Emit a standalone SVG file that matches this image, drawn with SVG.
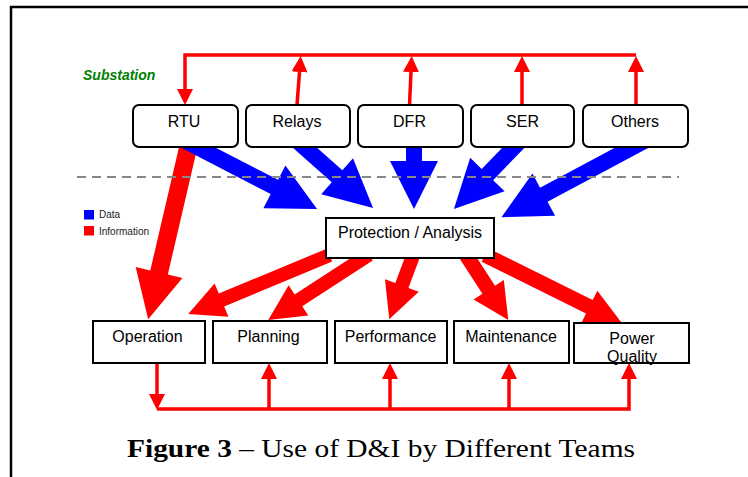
<svg xmlns="http://www.w3.org/2000/svg" width="748" height="477" viewBox="0 0 748 477">
  <style>
    .frame { fill: none; stroke: #000; stroke-width: 2.5; }
    .rbox { fill: #fff; stroke: #000; stroke-width: 2; }
    .sbox { fill: #fff; stroke: #000; stroke-width: 2; }
    .lbl { font-family: "Liberation Sans", Arial, sans-serif; font-size: 16px; fill: #000; text-anchor: middle; }
    .data { fill: #0000ff; }
    .info { fill: #ff0000; }
    .feed { fill: none; stroke: #ff0000; stroke-width: 3.5; }
    .sep { fill: none; stroke: #888; stroke-width: 2; stroke-dasharray: 9 6; }
    .legend { font-family: "Liberation Sans", Arial, sans-serif; font-size: 10px; fill: #222; }
  </style>
  <defs>
    <marker id="head" markerUnits="userSpaceOnUse" markerWidth="16" markerHeight="16" refX="0" refY="8" orient="auto">
      <path d="M0,0 L16,8 L0,16 Z" fill="#ff0000"/>
    </marker>
  </defs>

  <!-- outer frame -->
  <path class="frame" d="M11,477 V7 H748"/>

  <text x="83" y="80" font-family="Liberation Sans, Arial, sans-serif" font-size="14" font-weight="bold" font-style="italic" fill="#008000">Substation</text>

  <!-- connectors -->
  <g id="connectors">
    <!-- information flow RTU -> Operation -->
    <path class="info" d="M0,-9H136.1V-24L184.1,0L136.1,24V9H0Z" transform="translate(189.9,140) rotate(103.1)"/>
    <!-- data flows into Protection / Analysis -->
    <path class="data" d="M0,-8H102.3V-24L150.3,0L102.3,24V8H0Z" transform="translate(183.5,140) rotate(27.3)"/>
    <path class="data" d="M0,-8H54.6V-24L102.6,0L54.6,24V8H0Z" transform="translate(296.2,140) rotate(41.5)"/>
    <path class="data" d="M0,-8H21V-24L69,0L21,24V8H0Z" transform="translate(414,140) rotate(90)"/>
    <path class="data" d="M0,-8H48.2V-24L96.2,0L48.2,24V8H0Z" transform="translate(521,140) rotate(134.2)"/>
    <path class="data" d="M0,-8H116.1V-24L164.1,0L116.1,24V8H0Z" transform="translate(646.2,140) rotate(151.9)"/>
    <!-- information flows out of Protection / Analysis -->
    <path class="info" d="M0,-7H117V-18L153,0L117,18V7H0Z" transform="translate(329.5,255.1) rotate(157.4)"/>
    <path class="info" d="M0,-7H84V-18L120,0L84,18V7H0Z" transform="translate(368.9,254.6) rotate(147)"/>
    <path class="info" d="M0,-7H35.8V-18L71.8,0L35.8,18V7H0Z" transform="translate(414.4,252) rotate(110.5)"/>
    <path class="info" d="M0,-7.5H45V-18L81,0L45,18V7.5H0Z" transform="translate(464.2,252) rotate(57)"/>
    <path class="info" d="M0,-7.5H116.5V-18L152.5,0L116.5,18V7.5H0Z" transform="translate(485,255) rotate(26.4)"/>

    <!-- substation feedback loop -->
    <path class="feed" d="M636,55 H185 V89" marker-end="url(#head)"/>
    <path class="feed" d="M297,105 L299.5,72" marker-end="url(#head)"/>
    <path class="feed" d="M409.5,105 L411,72" marker-end="url(#head)"/>
    <path class="feed" d="M522,105 V72" marker-end="url(#head)"/>
    <path class="feed" d="M636,105 V72" marker-end="url(#head)"/>

    <!-- team feedback loop -->
    <path class="feed" d="M157,363 V394" marker-end="url(#head)"/>
    <path class="feed" d="M157,409 H629 V379" marker-end="url(#head)"/>
    <path class="feed" d="M269,409 V379" marker-end="url(#head)"/>
    <path class="feed" d="M390,409 V379" marker-end="url(#head)"/>
    <path class="feed" d="M509,409 V379" marker-end="url(#head)"/>
  </g>

  <!-- substation boundary -->
  <path class="sep" d="M77,177 H679"/>

  <!-- legend -->
  <rect x="84" y="210" width="10" height="9.5" class="data"/>
  <text class="legend" x="99" y="218">Data</text>
  <rect x="84" y="226" width="10" height="9.5" class="info"/>
  <text class="legend" x="99" y="234.5">Information</text>

  <!-- substation devices -->
  <g id="rtu"><rect class="rbox" x="133" y="105" width="105" height="42" rx="6"/><text class="lbl" x="184" y="127">RTU</text></g>
  <g id="relays"><rect class="rbox" x="246" y="105" width="104" height="42" rx="6"/><text class="lbl" x="297" y="127">Relays</text></g>
  <g id="dfr"><rect class="rbox" x="358" y="105" width="105" height="42" rx="6"/><text class="lbl" x="409.5" y="127">DFR</text></g>
  <g id="ser"><rect class="rbox" x="471" y="105" width="103" height="42" rx="6"/><text class="lbl" x="522.5" y="127">SER</text></g>
  <g id="others"><rect class="rbox" x="583" y="105" width="105" height="42" rx="6"/><text class="lbl" x="635" y="127">Others</text></g>

  <!-- analysis -->
  <g id="protection"><rect class="sbox" x="326" y="218" width="168" height="40"/><text class="lbl" x="410" y="238">Protection / Analysis</text></g>

  <!-- teams -->
  <g id="operation"><rect class="sbox" x="93" y="321" width="112" height="42"/><text class="lbl" x="147.5" y="342">Operation</text></g>
  <g id="planning"><rect class="sbox" x="213" y="321" width="114" height="42"/><text class="lbl" x="268.5" y="342">Planning</text></g>
  <g id="performance"><rect class="sbox" x="335" y="321" width="112" height="42"/><text class="lbl" x="390.5" y="342">Performance</text></g>
  <g id="maintenance"><rect class="sbox" x="454" y="321" width="115" height="42"/><text class="lbl" x="511" y="342">Maintenance</text></g>
  <g id="power-quality"><rect class="sbox" x="574" y="323" width="115" height="40"/><text class="lbl" x="632" y="344">Power</text><text class="lbl" x="632" y="362">Quality</text></g>

  <!-- caption -->
  <text x="127" y="457" font-family="Liberation Serif, 'Times New Roman', serif" font-size="25" fill="#000" textLength="508" lengthAdjust="spacingAndGlyphs"><tspan font-weight="bold">Figure 3</tspan> – Use of D&amp;I by Different Teams</text>
</svg>
